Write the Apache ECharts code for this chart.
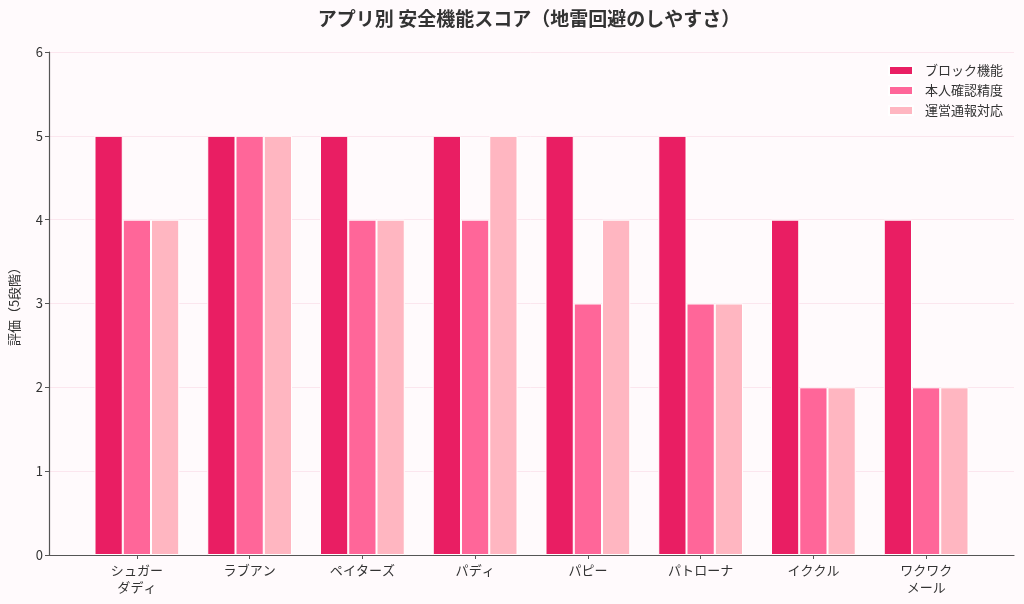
<!DOCTYPE html>
<html><head><meta charset="utf-8">
<script src="https://cdn.jsdelivr.net/npm/echarts@6/dist/echarts.min.js"></script>
<style>html,body{margin:0;padding:0;background:#fffafc;}#c{width:1024px;height:604px;}</style>
</head><body><div id="c"></div>
<script>
const categories = ['シュガー\nダディ','ラブアン','ペイターズ','パディ','パピー','パトローナ','イククル','ワクワク\nメール'];
const seriesNames = ['ブロック機能','本人確認精度','運営通報対応'];
const blockScores = [5,5,5,5,5,5,4,4];
const verifyScores = [4,5,4,4,3,3,2,2];
const reportScores = [4,5,4,5,4,3,2,2];
const yTicks = [0,1,2,3,4,5,6];
const colors = ['#E91E63','#FF6699','#FFB6C1'];

const font = '"Noto Sans CJK JP","Noto Sans",sans-serif';
const chart = echarts.init(document.getElementById('c'));
const gTop = 52, gBottom = 49;
const mk = (name, data, color) => ({
  name, type: 'bar', data, xAxisIndex: 0, yAxisIndex: 0,
  barWidth: 28.25, barGap: '0%',
  itemStyle: { color, borderColor: '#ffffff', borderWidth: 1 }
});
chart.setOption({
  backgroundColor: '#fffafc',
  textStyle: { fontFamily: font },
  title: {
    text: 'アプリ別 安全機能スコア（地雷回避のしやすさ）',
    left: 524, top: 4, textAlign: 'center',
    textStyle: { fontSize: 19, fontWeight: 'bold', color: '#333', fontFamily: font }
  },
  legend: {
    orient: 'vertical', right: 16, top: 59,
    itemWidth: 24, itemHeight: 9, itemGap: 7,
    icon: 'rect',
    textStyle: { fontSize: 13, color: '#333', fontFamily: font, padding: [0, 0, 0, 7] },
    data: seriesNames
  },
  grid: [
    { left: 78.5, right: 41.5, top: gTop, bottom: gBottom },
    { left: 47, right: 10, top: gTop, bottom: gBottom }
  ],
  xAxis: [
    { type: 'category', gridIndex: 0, data: categories,
      axisLine: { show: false },
      axisTick: { show: true, alignWithLabel: true, length: 4, lineStyle: { color: '#555' } },
      axisLabel: { fontSize: 13, color: '#333', lineHeight: 17, margin: 7, interval: 0, fontFamily: font } },
    { type: 'value', gridIndex: 1, min: 0, max: 1,
      axisLine: { show: true, lineStyle: { color: '#555', width: 1.2 } },
      axisTick: { show: false }, axisLabel: { show: false }, splitLine: { show: false } }
  ],
  yAxis: [
    { type: 'value', gridIndex: 0, min: yTicks[0], max: yTicks[yTicks.length-1], interval: 1,
      offset: 31.5,
      name: '評価（5段階）', nameLocation: 'middle', nameGap: 28,
      nameTextStyle: { fontSize: 13, color: '#333', fontFamily: font },
      axisLine: { show: true, lineStyle: { color: '#555', width: 1.2 } },
      axisTick: { show: true, length: 4, lineStyle: { color: '#555' } },
      axisLabel: { fontSize: 13, color: '#333', margin: 6, fontFamily: font },
      splitLine: { show: false } },
    { type: 'value', gridIndex: 1, min: yTicks[0], max: yTicks[yTicks.length-1], interval: 1,
      axisLine: { show: false }, axisTick: { show: false }, axisLabel: { show: false },
      splitLine: { show: true, lineStyle: { color: '#fbe6ee', width: 1 } } }
  ],
  series: [
    mk(seriesNames[0], blockScores, colors[0]),
    mk(seriesNames[1], verifyScores, colors[1]),
    mk(seriesNames[2], reportScores, colors[2])
  ]
});
</script></body></html>
